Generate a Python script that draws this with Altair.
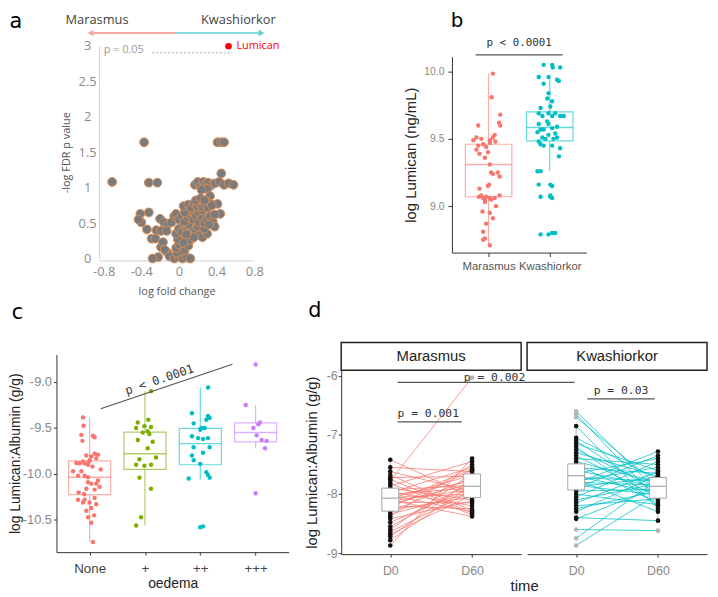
import altair as alt
import pandas as pd

# ---------------- Panel a : volcano plot ----------------
a_fc = [-0.71, -0.37, 0.41, 0.45, 0.48, -0.32, -0.23, 0.45,
        0.17, 0.20, 0.23, 0.26, 0.28, 0.31, 0.34, 0.38, 0.43, 0.48, 0.53, 0.58,
        0.30, 0.24, 0.33, 0.30, 0.34, 0.41, 0.44,
        -0.41, -0.32, -0.40, -0.43, -0.34, -0.29, -0.25,
        -0.20, -0.16, -0.12, -0.08, -0.05, -0.03,
        -0.24, -0.19, -0.13,
        -0.19, -0.17, -0.12, -0.15, -0.22, -0.28, -0.10,
        -0.05, 0.00, 0.04, 0.08, 0.12, -0.02, 0.03,
        -0.03, 0.00, 0.03, 0.06, 0.10, 0.14, 0.02, 0.07, 0.11, -0.01, 0.05,
        -0.03, 0.00, 0.03, 0.06, 0.09, 0.12, 0.15, 0.18, 0.22, 0.25, 0.20, 0.10, 0.04, 0.30, 0.27, 0.16, 0.08,
        0.00, 0.03, 0.06, 0.09, 0.12, 0.15, 0.18, 0.21, 0.24, 0.27, 0.30, 0.33, 0.36, 0.20, 0.25, 0.10, 0.06, 0.14,
        0.05, 0.10, 0.13, 0.16, 0.19, 0.22, 0.25, 0.28, 0.31, 0.35, 0.18, 0.23, 0.27,
        0.38, 0.38, 0.32]
a_p = [1.08, 1.64, 1.64, 1.64, 1.64, 1.07, 1.07, 1.20,
       1.04, 1.08, 1.02, 1.08, 1.05, 1.07, 1.03, 1.06, 1.08, 1.04, 1.06, 1.04,
       0.98, 0.97, 0.88, 0.80, 0.77, 0.77, 0.63,
       0.63, 0.65, 0.51, 0.55, 0.41, 0.28, 0.28,
       0.56, 0.51, 0.48, 0.51, 0.60, 0.63,
       0.40, 0.39, 0.39,
       0.16, 0.23, 0.08, 0.12, 0.02, 0.00, 0.03,
       0.00, 0.02, 0.00, 0.02, 0.00, 0.08, 0.10,
       0.15, 0.20, 0.25, 0.12, 0.18, 0.28, 0.32, 0.30, 0.26, 0.27, 0.22,
       0.35, 0.42, 0.38, 0.45, 0.40, 0.35, 0.42, 0.38, 0.33, 0.30, 0.45, 0.48, 0.50, 0.35, 0.42, 0.30, 0.34,
       0.55, 0.60, 0.52, 0.58, 0.62, 0.55, 0.60, 0.52, 0.58, 0.50, 0.55, 0.60, 0.52, 0.66, 0.68, 0.67, 0.65, 0.70,
       0.74, 0.76, 0.72, 0.78, 0.74, 0.77, 0.73, 0.76, 0.72, 0.75, 0.82, 0.85, 0.82,
       0.62, 0.45, 0.48]
a_hit_fc = [0.527]
a_hit_p = [2.996]
a_hit_name = ["Lumican"]
a_x_ticks = [-0.8, -0.4, 0, 0.4, 0.8]
a_y_ticks = [0, 0.5, 1, 1.5, 2, 2.5, 3]

# ---------------- Panel b : Lumican by group ----------------
b_groups = ["Marasmus", "Kwashiorkor"]
b_mar_jit = [0.07, 0.05, 0.19, 0.17, 0.19, -0.17, -0.20, -0.12, 0.02, 0.07,
             0.10, 0.11, -0.17, -0.09, -0.04, -0.20, -0.15, -0.06, -0.01, 0.02,
             -0.25, 0.02, 0.04, 0.07, 0.15, 0.18, 0.01, -0.01, -0.15, -0.12,
             -0.09, -0.06, -0.04, 0.02, 0.04, 0.10, 0.18, -0.16, -0.06, 0.12,
             -0.10, 0.02, 0.07, -0.04, -0.09, -0.06, -0.09, 0.02]
b_mar_val = [9.985, 9.81, 9.68, 9.62, 9.60, 9.60, 9.51, 9.50, 9.49, 9.51,
             9.53, 9.48, 9.45, 9.46, 9.44, 9.42, 9.39, 9.36, 9.40, 9.47,
             9.49, 9.31, 9.25, 9.24, 9.25, 9.22, 9.16, 9.15, 9.13, 9.08,
             9.06, 9.05, 9.07, 9.06, 9.05, 9.06, 9.08, 9.07, 9.03, 9.00,
             8.96, 8.95, 8.91, 8.87, 8.81, 8.76, 8.75, 8.71]
b_kw_jit = [-0.10, 0.04, 0.05, 0.17, -0.18, -0.02, 0.12, 0.15, -0.10, -0.02,
            -0.04, 0.04, 0.01, -0.15, -0.18, -0.02, 0.09, -0.12, 0.04, 0.17,
            0.23, -0.04, -0.18, -0.02, 0.12, 0.04, -0.15, -0.10, -0.20, 0.09,
            -0.02, -0.12, -0.07, 0.06, 0.12, -0.18, -0.15, -0.10, 0.04, 0.17,
            0.15, -0.20, -0.15, -0.18, 0.01, 0.04, -0.15, 0.01, 0.04, 0.01,
            -0.15, -0.02, 0.04, 0.09]
b_kw_val = [10.05, 10.05, 10.03, 10.03, 9.96, 9.96, 9.94, 9.93, 9.91, 9.84,
            9.80, 9.78, 9.74, 9.73, 9.69, 9.69, 9.69, 9.67, 9.67, 9.67,
            9.67, 9.63, 9.61, 9.61, 9.59, 9.58, 9.57, 9.57, 9.55, 9.54,
            9.53, 9.51, 9.50, 9.50, 9.51, 9.48, 9.46, 9.45, 9.45, 9.43,
            9.37, 9.26, 9.26, 9.16, 9.16, 9.15, 9.07, 9.07, 9.06, 9.08,
            8.79, 8.79, 8.80, 8.80]
b_lo = [8.72, 9.26]
b_q1 = [9.07, 9.485]
b_med = [9.31, 9.585]
b_q3 = [9.46, 9.70]
b_hi = [9.985, 9.97]
b_y_ticks = [9.0, 9.5, 10.0]

# ---------------- Panel c : Lumican:Albumin by oedema ----------------
c_groups = ["None", "+", "++", "+++"]
c_none_jit = [-0.12, -0.11, -0.15, 0.06, 0.09, -0.13, 0.09, 0.15, -0.06, 0.03,
              0.00, -0.12, -0.18, -0.24, -0.03, -0.09, 0.12, -0.15, -0.30, -0.09,
              -0.03, -0.21, 0.15, -0.03, 0.03, 0.12, 0.18, -0.06, 0.09, -0.21,
              -0.09, 0.00, -0.12, 0.09, 0.12, 0.03, -0.06, -0.03, 0.03, 0.06,
              -0.02, 0.05, -0.20, 0.20, -0.10, 0.08]
c_none_val = [-9.385, -9.475, -9.575, -9.585, -9.60, -9.64, -9.78, -9.79, -9.80, -9.81,
              -9.85, -9.865, -9.885, -9.88, -9.90, -9.885, -9.83, -9.97, -9.97, -10.02,
              -10.035, -10.02, -10.07, -10.09, -10.105, -10.105, -10.14, -10.16, -10.17, -10.28,
              -10.28, -10.31, -10.31, -10.26, -10.33, -10.37, -10.40, -10.47, -10.53, -10.74,
              -9.87, -9.92, -10.20, -9.95, -10.22, -10.45]
c_p1_jit = [0.11, 0.06, -0.13, -0.01, 0.11, -0.16, 0.05, -0.04, 0.08, -0.13,
            0.14, 0.05, 0.20, -0.10, -0.16, -0.01, 0.11, -0.10, 0.11, -0.07, -0.16]
c_p1_val = [-9.10, -9.41, -9.44, -9.48, -9.49, -9.50, -9.535, -9.55, -9.565, -9.63,
            -9.65, -9.72, -9.82, -9.84, -9.90, -9.91, -9.90, -10.04, -10.16, -10.47, -10.56]
c_p2_jit = [0.14, -0.15, 0.14, 0.17, 0.11, -0.12, 0.02, 0.00, 0.08, -0.15,
            -0.04, 0.05, 0.14, -0.12, 0.05, 0.17, -0.15, -0.12, 0.00, 0.11,
            0.14, 0.17, -0.21, 0.00, 0.05]
c_p2_val = [-9.06, -9.34, -9.37, -9.39, -9.41, -9.45, -9.50, -9.52, -9.50, -9.59,
            -9.61, -9.62, -9.61, -9.71, -9.77, -9.71, -9.80, -9.85, -9.89, -9.98,
            -10.01, -10.04, -10.05, -10.58, -10.57]
c_p3_jit = [0.00, -0.18, 0.08, 0.05, -0.04, 0.02, 0.11, 0.20, 0.17, 0.00]
c_p3_val = [-8.81, -9.25, -9.44, -9.46, -9.50, -9.58, -9.63, -9.64, -9.72, -10.21]
c_lo = [-10.74, -10.56, -10.06, -9.72]
c_q1 = [-10.225, -9.95, -9.90, -9.65]
c_med = [-10.035, -9.78, -9.67, -9.55]
c_q3 = [-9.857, -9.545, -9.505, -9.445]
c_hi = [-9.385, -9.10, -9.06, -9.25]
c_y_ticks = [-10.5, -10.0, -9.5, -9.0]

# ---------------- Panel d : paired D0 / D60 ----------------
d_groups = ["Marasmus", "Kwashiorkor"]
d_times = ["D0", "D60"]
d_mar_d0 = [-7.42, -7.55, -7.62, -7.68, -7.72, -7.78, -7.82, -7.86, -7.90, -7.93,
            -7.96, -7.98, -8.00, -8.02, -8.04, -8.06, -8.08, -8.10, -8.12, -8.14,
            -8.17, -8.20, -8.23, -8.27, -8.30, -8.34, -8.38, -8.42, -8.48, -8.55,
            -8.60, -8.64, -8.68, -8.72, -8.78, -8.87, -7.75, -8.15]
d_mar_d60 = [-8.05, -7.62, -7.95, -8.28, -7.70, -6.03, -8.35, -7.45, -8.10, -7.85,
             -8.20, -7.55, -7.90, -8.30, -7.78, -8.00, -7.68, -8.38, -7.92, -8.15,
             -7.82, -8.25, -7.60, -8.05, -7.72, -7.98, -7.50, -8.12, -7.88, -7.80,
             -7.65, -7.95, -8.02, -7.75, -7.85, -7.40, -8.32, -7.58]
d_kw_d0 = [-6.60, -6.65, -6.70, -6.85, -7.05, -7.10, -7.15, -7.20, -7.25, -7.30,
           -7.35, -7.40, -7.45, -7.50, -7.55, -7.60, -7.65, -7.70, -7.72, -7.75,
           -7.78, -7.80, -7.82, -7.85, -7.88, -7.90, -7.95, -8.00, -8.05, -8.10,
           -8.15, -8.20, -8.25, -8.30, -8.40, -8.42, -8.60, -8.75, -8.87]
d_kw_d60 = [-7.95, -8.10, -7.85, -8.25, -7.75, -8.00, -7.60, -8.20, -7.90, -7.70,
            -8.05, -7.50, -7.80, -8.15, -7.65, -7.88, -7.40, -7.98, -7.78, -8.30,
            -7.55, -7.85, -7.28, -8.02, -7.72, -7.35, -7.92, -8.18, -7.45, -7.82,
            -7.62, -8.08, -7.95, -7.68, -8.45, -7.88, -8.62, -7.75, -8.00]
d_mar_lo = [-8.87, -8.38]
d_mar_q1 = [-8.29, -8.06]
d_mar_med = [-8.07, -7.87]
d_mar_q3 = [-7.90, -7.66]
d_mar_hi = [-7.42, -7.40]
d_kw_lo = [-8.42, -8.45]
d_kw_q1 = [-7.93, -8.07]
d_kw_med = [-7.69, -7.87]
d_kw_q3 = [-7.49, -7.72]
d_kw_hi = [-6.85, -7.28]
d_y_ticks = [-9, -8, -7, -6]

# ---------------- styling / layout ----------------
W, H = 710, 589


def px(v):
    return v - 8


SANS = "Liberation Sans"
OPEN = "Open Sans"
MONO = "DejaVu Sans Mono"
LETTER = "DejaVu Sans"
SALMON, TEAL, GREEN, PURPLE = "#F8766D", "#00BFC4", "#7CAE00", "#C77CFF"
GROUP_COLOR = alt.Scale(domain=["Marasmus", "Kwashiorkor", "None", "+", "++", "+++"],
                        range=[SALMON, TEAL, SALMON, GREEN, TEAL, PURPLE])
MINUS = "replace(format(datum.value, '~g'), '\u2212', '-')"
MINUS1 = "replace(format(datum.value, '.1f'), '\u2212', '-')"


def cat_expr(cats):
    return "[" + ",".join("'%s'" % c for c in cats) + "][datum.value - 1]"


def axis(orient, offset, values, **kw):
    base = dict(orient=orient, offset=offset, values=values, grid=False,
                labelFlush=False, labelOverlap=False, titleFontWeight="normal",
                titleBaseline="middle")
    base.update(kw)
    return alt.Axis(**base)


def note(xs, ys, x, y, text, **mk):
    df = pd.DataFrame({"x": [x], "y": [y], "t": [text]})
    return alt.Chart(df).mark_text(**mk).encode(
        x=alt.X("x:Q", scale=xs, axis=None),
        y=alt.Y("y:Q", scale=ys, axis=None),
        text="t:N")


def seg(xs, ys, x, x2, y, y2, **mk):
    df = pd.DataFrame({"x": [x], "x2": [x2], "y": [y], "y2": [y2]})
    return alt.Chart(df).mark_rule(**mk).encode(
        x=alt.X("x:Q", scale=xs, axis=None), x2="x2:Q",
        y=alt.Y("y:Q", scale=ys, axis=None), y2="y2:Q")


def head(xs, ys, x, y, shape, color):
    df = pd.DataFrame({"x": [x], "y": [y]})
    return alt.Chart(df).mark_point(shape=shape, filled=True, size=45, color=color,
                                    opacity=1).encode(
        x=alt.X("x:Q", scale=xs, axis=None),
        y=alt.Y("y:Q", scale=ys, axis=None))


def colored_boxes(df, xs, ys, half, xaxis, yaxis):
    base = alt.Chart(df).transform_calculate(
        left="datum.pos - %f" % half, right="datum.pos + %f" % half)
    whisk = base.mark_rule(strokeWidth=1.2, opacity=0.6).encode(
        x=alt.X("pos:Q", scale=xs, axis=xaxis),
        y=alt.Y("lo:Q", scale=ys, axis=yaxis), y2="hi:Q",
        color=alt.Color("grp:N", scale=GROUP_COLOR, legend=None))
    box = base.mark_rect(fill="white", strokeWidth=1.2, strokeOpacity=0.6).encode(
        x=alt.X("left:Q", scale=xs, axis=None), x2="right:Q",
        y=alt.Y("q1:Q", scale=ys, axis=None), y2="q3:Q",
        stroke=alt.Stroke("grp:N", scale=GROUP_COLOR, legend=None))
    med = base.mark_rule(strokeWidth=1.5, opacity=0.6).encode(
        x=alt.X("left:Q", scale=xs, axis=None), x2="right:Q",
        y=alt.Y("med:Q", scale=ys, axis=None),
        color=alt.Color("grp:N", scale=GROUP_COLOR, legend=None))
    return [whisk, box, med]


def jitter_points(df, xs, ys, size):
    return alt.Chart(df).transform_calculate(xj="datum.pos + datum.jit").mark_circle(
        size=size, opacity=1).encode(
        x=alt.X("xj:Q", scale=xs, axis=None),
        y=alt.Y("val:Q", scale=ys, axis=None),
        color=alt.Color("grp:N", scale=GROUP_COLOR, legend=None))


layers = []

# ---------------- Panel a ----------------
xa = alt.Scale(domain=[-0.85, 0.8], range=[px(100), px(257)], nice=False, zero=False)
ya = alt.Scale(domain=[0, 3], range=[px(258), px(43)], nice=False, zero=False)
a_ax_x = axis("bottom", px(260) - H, a_x_ticks, ticks=False, domainColor="#d0d0d0",
              labelFont=OPEN, labelFontSize=13, labelColor="#8a8a8a", labelPadding=5,
              labelExpr=MINUS, title="log fold change", titleFont=OPEN, titleFontSize=11,
              titleColor="#555", titleY=31)
a_ax_y = axis("left", -px(100), a_y_ticks, ticks=False, domainColor="#d0d0d0",
              labelFont=OPEN, labelFontSize=13, labelColor="#8a8a8a", labelPadding=12,
              labelAlign="center", labelExpr=MINUS, title="-log FDR p value", titleFont=OPEN,
              titleFontSize=11, titleColor="#555", titleX=-33)
a_df = pd.DataFrame({"fc": a_fc, "p": a_p})
layers.append(alt.Chart(a_df).mark_circle(size=80, fill="#7b7b7b", stroke="#d98d57",
                                          strokeWidth=1, opacity=1).encode(
    x=alt.X("fc:Q", scale=xa, axis=a_ax_x),
    y=alt.Y("p:Q", scale=ya, axis=a_ax_y)))
hit_df = pd.DataFrame({"fc": a_hit_fc, "p": a_hit_p, "name": a_hit_name})
layers.append(alt.Chart(hit_df).mark_circle(size=45, color="#ff0000", opacity=1).encode(
    x=alt.X("fc:Q", scale=xa, axis=None), y=alt.Y("p:Q", scale=ya, axis=None)))
layers.append(alt.Chart(hit_df).mark_text(align="left", baseline="middle", dx=8, font=OPEN,
                                          fontSize=11, color="#ff0000").encode(
    x=alt.X("fc:Q", scale=xa, axis=None), y=alt.Y("p:Q", scale=ya, axis=None), text="name:N"))
layers += [
    seg(xa, ya, -0.282, 0.569, 2.902, 2.902, color="#aaaaaa", strokeDash=[2, 2], strokeWidth=1),
    note(xa, ya, -0.80, 2.948, "p = 0.05", align="left", baseline="middle", font=OPEN,
         fontSize=11, color="#999999"),
    seg(xa, ya, -0.939, -0.041, 3.181, 3.181, color="#F5A9A3", strokeWidth=2),
    seg(xa, ya, -0.041, 0.874, 3.181, 3.181, color="#86DADC", strokeWidth=2),
    head(xa, ya, -0.940, 3.181, "triangle-left", "#F5A9A3"),
    head(xa, ya, 0.878, 3.181, "triangle-right", "#5FCFD2"),
    note(xa, ya, -0.871, 3.363, "Marasmus", font=OPEN, fontSize=13, color="#444444",
         align="center", baseline="middle"),
    note(xa, ya, 0.632, 3.363, "Kwashiorkor", font=OPEN, fontSize=13, color="#444444",
         align="center", baseline="middle"),
    note(xa, ya, -1.733, 3.488, "a", font=LETTER, fontSize=21, color="#000000",
         align="center", baseline="top"),
]

# ---------------- Panel b ----------------
xb = alt.Scale(domain=[0.4, 2.6], range=[px(457), px(593)], nice=False, zero=False)
yb = alt.Scale(domain=[8.655, 10.11], range=[px(252), px(54)], nice=False, zero=False)
b_ax_x = axis("bottom", px(252) - H, [1, 2], tickSize=4, tickColor="#333", domainColor="#333",
              labelFont=SANS, labelFontSize=11.5, labelColor="#555", labelPadding=4,
              labelExpr=cat_expr(b_groups), title=None)
b_ax_y = axis("left", -px(457), b_y_ticks, tickSize=4, tickColor="#333", domainColor="#333",
              labelFont=SANS, labelFontSize=10.5, labelColor="#888", labelPadding=4,
              labelExpr=MINUS1, title="log Lumican (ng/mL)", titleFont=SANS,
              titleFontSize=15, titleColor="#222", titleX=-42)
b_box_df = pd.DataFrame({"grp": b_groups, "pos": [1, 2], "lo": b_lo, "q1": b_q1,
                         "med": b_med, "q3": b_q3, "hi": b_hi})
b_pts_df = pd.concat([
    pd.DataFrame({"grp": b_groups[0], "pos": 1, "jit": b_mar_jit, "val": b_mar_val}),
    pd.DataFrame({"grp": b_groups[1], "pos": 2, "jit": b_kw_jit, "val": b_kw_val}),
], ignore_index=True)
layers += colored_boxes(b_box_df, xb, yb, 0.38, b_ax_x, b_ax_y)
layers += [
    jitter_points(b_pts_df, xb, yb, 20),
    seg(xb, yb, 0.788, 2.212, 10.125, 10.125, color="#555555", strokeWidth=1.2),
    note(xb, yb, 1.5, 10.213, "p < 0.0001", font=MONO, fontSize=11, color="#333333",
         align="center", baseline="middle"),
    note(xb, yb, 0.481, 10.448, "b", font=LETTER, fontSize=20, color="#000000",
         align="center", baseline="top"),
]

# ---------------- Panel c ----------------
xc = alt.Scale(domain=[0.4, 4.6], range=[px(57), px(292)], nice=False, zero=False)
yc = alt.Scale(domain=[-10.85, -8.70], range=[px(555), px(355)], nice=False, zero=False)
c_ax_x = axis("bottom", px(555) - H, [1, 2, 3, 4], tickSize=3, tickColor="#333",
              domainColor="#333", labelFont=SANS, labelFontSize=13.5, labelColor="#444",
              labelPadding=7, labelExpr=cat_expr(c_groups), title="oedema", titleFont=SANS,
              titleFontSize=14, titleColor="#222", titleY=32)
c_ax_y = axis("left", -px(57), c_y_ticks, tickSize=3, tickColor="#333", domainColor="#333",
              labelFont=SANS, labelFontSize=13, labelColor="#888", labelPadding=2,
              labelExpr=MINUS1, title="log Lumican:Albumin (g/g)", titleFont=SANS,
              titleFontSize=14, titleColor="#222", titleX=-41)
c_box_df = pd.DataFrame({"grp": c_groups, "pos": [1, 2, 3, 4], "lo": c_lo, "q1": c_q1,
                         "med": c_med, "q3": c_q3, "hi": c_hi})
c_pts_df = pd.concat([
    pd.DataFrame({"grp": c_groups[0], "pos": 1, "jit": c_none_jit, "val": c_none_val}),
    pd.DataFrame({"grp": c_groups[1], "pos": 2, "jit": c_p1_jit, "val": c_p1_val}),
    pd.DataFrame({"grp": c_groups[2], "pos": 3, "jit": c_p2_jit, "val": c_p2_val}),
    pd.DataFrame({"grp": c_groups[3], "pos": 4, "jit": c_p3_jit, "val": c_p3_val}),
], ignore_index=True)
layers += colored_boxes(c_box_df, xc, yc, 0.38, c_ax_x, c_ax_y)
layers += [
    jitter_points(c_pts_df, xc, yc, 20),
    seg(xc, yc, 1.199, 3.581, -9.291, -8.807, color="#555555", strokeWidth=1.2),
    note(xc, yc, 2.312, -9.065, "p < 0.0001", font=MONO, fontSize=12, color="#333333",
         align="center", baseline="bottom", angle=341.35, dy=-2),
    note(xc, yc, -0.306, -8.254, "c", font=LETTER, fontSize=21, color="#000000",
         align="center", baseline="middle"),
]

# ---------------- Panel d ----------------
yd = alt.Scale(domain=[-9.017, -5.905], range=[px(557), px(371)], nice=False, zero=False)
xdl = alt.Scale(domain=[0.4, 2.6], range=[px(345), px(527)], nice=False, zero=False)
xdr = alt.Scale(domain=[0.4, 2.6], range=[px(533), px(715)], nice=False, zero=False)


def pair_df(grp, d0, d60):
    rows = []
    for i, (v0, v1) in enumerate(zip(d0, d60)):
        rows.append({"grp": grp, "pid": "%s%d" % (grp, i), "t": 1, "val": v0})
        rows.append({"grp": grp, "pid": "%s%d" % (grp, i), "t": 2, "val": v1})
    return pd.DataFrame(rows)


def box_df(lo, q1, med, q3, hi):
    return pd.DataFrame({"t": [1, 2], "lo": lo, "q1": q1, "med": med, "q3": q3, "hi": hi})


def facet(grp, d0, d60, bdf, xs, xaxis, yaxis):
    pdf = pair_df(grp, d0, d60).merge(bdf[["t", "lo", "hi"]], on="t")
    pdf["out"] = (pdf["val"] > pdf["hi"]) | (pdf["val"] < pdf["lo"])
    strip_df = pd.DataFrame({"x": [0.4], "x2": [2.6], "y": [-5.905], "y2": [-5.437]})
    strip = alt.Chart(strip_df).mark_rect(fill="white", stroke="#222", strokeWidth=1.5).encode(
        x=alt.X("x:Q", scale=xs, axis=None), x2="x2:Q",
        y=alt.Y("y:Q", scale=yd, axis=None), y2="y2:Q")
    strip_txt = note(xs, yd, 1.5, -5.671, grp, font=SANS, fontSize=15, color="#222",
                     align="center", baseline="middle")
    lines = alt.Chart(pdf).mark_line(strokeWidth=0.9, opacity=0.85).encode(
        x=alt.X("t:Q", scale=xs, axis=xaxis),
        y=alt.Y("val:Q", scale=yd, axis=yaxis),
        detail="pid:N",
        color=alt.Color("grp:N", scale=GROUP_COLOR, legend=None))
    base = alt.Chart(bdf).transform_calculate(left="datum.t - 0.103", right="datum.t + 0.103")
    whisk = base.mark_rule(color="#bbbbbb", strokeWidth=1).encode(
        x=alt.X("t:Q", scale=xs, axis=None),
        y=alt.Y("lo:Q", scale=yd, axis=None), y2="hi:Q")
    pts = alt.Chart(pdf).mark_circle(size=22, opacity=1).encode(
        x=alt.X("t:Q", scale=xs, axis=None),
        y=alt.Y("val:Q", scale=yd, axis=None),
        color=alt.condition("datum.out", alt.value("#b5b5b5"), alt.value("#111111")))
    box = base.mark_rect(fill="white", stroke="#a8a8a8", strokeWidth=1).encode(
        x=alt.X("left:Q", scale=xs, axis=None), x2="right:Q",
        y=alt.Y("q1:Q", scale=yd, axis=None), y2="q3:Q")
    med = base.mark_rule(color="#a8a8a8", strokeWidth=1.2).encode(
        x=alt.X("left:Q", scale=xs, axis=None), x2="right:Q",
        y=alt.Y("med:Q", scale=yd, axis=None))
    return [strip, strip_txt, lines, whisk, pts, box, med]


d_ax_y = axis("left", -px(345), d_y_ticks, tickSize=3, tickColor="#333", domainColor="#333",
              labelFont=SANS, labelFontSize=12.5, labelColor="#888", labelPadding=1,
              labelExpr=MINUS, title="log Lumican:Albumin (g/g)", titleFont=SANS,
              titleFontSize=15, titleColor="#222", titleX=-30)
d_ax_xl = axis("bottom", px(557) - H, [1, 2], tickSize=3, tickColor="#333", domainColor="#333",
               labelFont=SANS, labelFontSize=12.5, labelColor="#888", labelPadding=8,
               labelExpr=cat_expr(d_times), title="time", titleFont=SANS, titleFontSize=15,
               titleColor="#222", titleY=32, titleX=px(530))
d_ax_xr = axis("bottom", px(557) - H, [1, 2], tickSize=3, tickColor="#333", domainColor="#333",
               labelFont=SANS, labelFontSize=12.5, labelColor="#888", labelPadding=8,
               labelExpr=cat_expr(d_times), title=None)

layers += facet(d_groups[0], d_mar_d0, d_mar_d60,
                box_df(d_mar_lo, d_mar_q1, d_mar_med, d_mar_q3, d_mar_hi), xdl, d_ax_xl, d_ax_y)
layers += [
    seg(xdl, yd, 1.089, 1.875, -6.780, -6.780, color="#555555", strokeWidth=1.2),
    note(xdl, yd, 1.464, -6.641, "p = 0.001", font=MONO, fontSize=11.5, color="#333333",
         align="center", baseline="middle"),
    seg(xdl, yd, 1.089, 3.253, -6.111, -6.111, color="#555555", strokeWidth=1.2),
    note(xdl, yd, 2.274, -6.039, "p = 0.002", font=MONO, fontSize=11.5, color="#333333",
         align="center", baseline="middle"),
    note(xdl, yd, 0.077, -4.906, "d", font=LETTER, fontSize=21, color="#000000",
         align="center", baseline="middle"),
]
layers += facet(d_groups[1], d_kw_d0, d_kw_d60,
                box_df(d_kw_lo, d_kw_q1, d_kw_med, d_kw_q3, d_kw_hi), xdr, d_ax_xr, None)
layers += [
    seg(xdr, yd, 1.137, 1.959, -6.390, -6.390, color="#555555", strokeWidth=1.2),
    note(xdr, yd, 1.548, -6.251, "p = 0.03", font=MONO, fontSize=11.5, color="#333333",
         align="center", baseline="middle"),
]

chart = alt.layer(*layers).resolve_scale(
    x="independent", y="independent"
).resolve_axis(
    x="independent", y="independent"
).properties(
    width=W, height=H, autosize=alt.AutoSizeParams(type="none"), padding=0
).configure(font=SANS).configure_view(stroke=None)

chart.save("out.html", embed_options={"renderer": "svg", "actions": False})
